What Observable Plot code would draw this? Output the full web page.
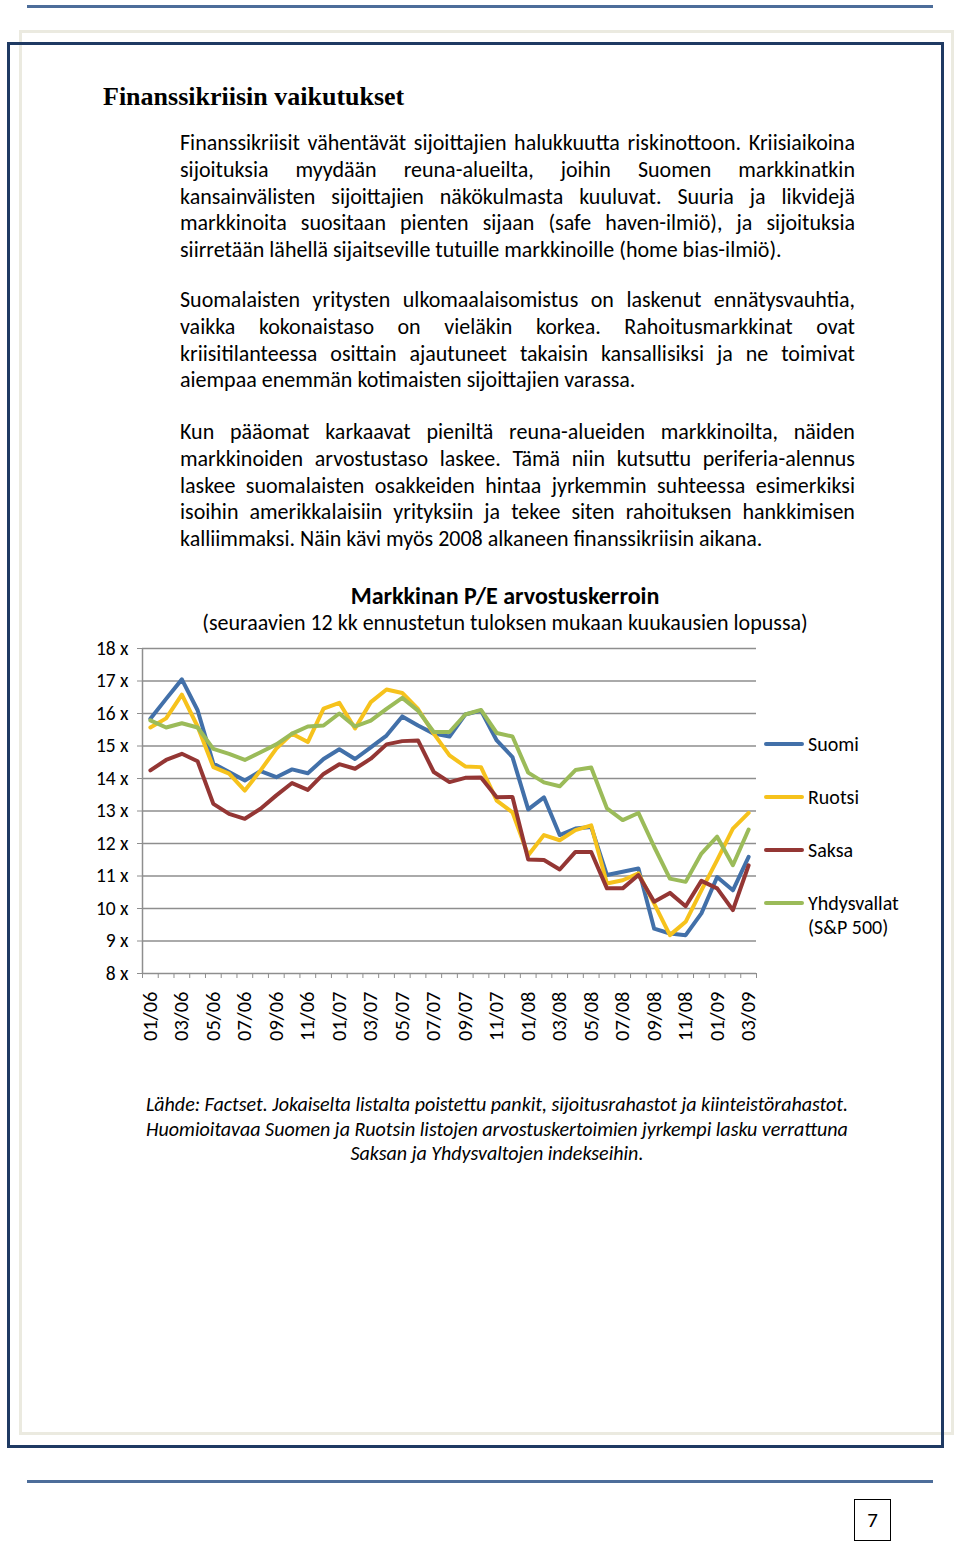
<!DOCTYPE html>
<html>
<head>
<meta charset="utf-8">
<script src="https://cdn.jsdelivr.net/npm/d3@7"></script>
<script src="https://cdn.jsdelivr.net/npm/@observablehq/plot@0.6"></script>
<style>
  html, body { margin: 0; padding: 0; background: #fff; }
  #page { position: relative; width: 960px; height: 1543px; overflow: hidden; background: #fff; font-family: Carlito, Lato, sans-serif; color: #000; }
  .hline { position: absolute; height: 3px; background: #4d6d9a; }
  .frame-light { position: absolute; border: 3px solid #ebeae0; box-sizing: border-box; }
  .frame-dark { position: absolute; border: 3px solid #1f3a63; box-sizing: border-box; }
  .title { position: absolute; left: 103px; top: 81px; font-family: "Liberation Serif", serif; font-weight: bold; font-size: 26px; line-height: 32px; color: #000; white-space: nowrap; }
  .ln { position: absolute; left: 180px; width: 675px; font-size: 22px; line-height: 26px; white-space: nowrap; }
  .j { display: flex; justify-content: space-between; }
  .ctitle { position: absolute; left: 0; width: 1010px; text-align: center; font-weight: bold; font-size: 24px; line-height: 28px; white-space: nowrap; }
  .csub { position: absolute; left: 0; width: 1010px; text-align: center; font-size: 22px; line-height: 26px; white-space: nowrap; }
  .cap { position: absolute; left: 0; width: 994px; text-align: center; font-style: italic; font-size: 20px; line-height: 24px; white-space: nowrap; }
  .leg { position: absolute; left: 764px; font-size: 20px; line-height: 24px; }
  .leg .sw { position: absolute; left: 0; width: 40px; height: 4px; border-radius: 2px; }
  .leg .tx { position: absolute; left: 44px; white-space: nowrap; }
  #chart { position: absolute; left: 0; top: 630px; }
  .pnum { position: absolute; left: 854px; top: 1499px; width: 37px; height: 42px; border: 1.5px solid #000; box-sizing: border-box; text-align: center; font-size: 21px; line-height: 40px; }
</style>
</head>
<body>
<div id="page">
  <div class="hline" style="left:27px; top:5px; width:906px;"></div>
  <div class="frame-light" style="left:19px; top:30px; width:935px; height:1405px;"></div>
  <div class="frame-dark" style="left:7px; top:42px; width:937px; height:1406px;"></div>
  <div class="hline" style="left:27px; top:1480px; width:906px;"></div>
  <div class="pnum">7</div>

  <div class="title">Finanssikriisin vaikutukset</div>
  <div id="text"></div>

  <div class="ctitle" style="top:582px;">Markkinan P/E arvostuskerroin</div>
  <div class="csub" style="top:610px;">(seuraavien 12 kk ennustetun tuloksen mukaan kuukausien lopussa)</div>

  <div id="chart"></div>
  <div id="legend"></div>

  <div id="caption"></div>
</div>
<script>
// ---- Data ----
const months = ["01/06","02/06","03/06","04/06","05/06","06/06","07/06","08/06","09/06","10/06","11/06","12/06",
  "01/07","02/07","03/07","04/07","05/07","06/07","07/07","08/07","09/07","10/07","11/07","12/07",
  "01/08","02/08","03/08","04/08","05/08","06/08","07/08","08/08","09/08","10/08","11/08","12/08",
  "01/09","02/09","03/09"];

const suomi = [15.84,16.45,17.05,16.1,14.46,14.2,13.94,14.23,14.04,14.28,14.16,14.6,
  14.9,14.6,14.96,15.32,15.91,15.63,15.38,15.29,15.97,16.09,15.17,14.66,
  13.05,13.42,12.26,12.46,12.51,11.03,11.13,11.23,9.38,9.23,9.18,9.85,
  10.97,10.56,11.59];

const ruotsi = [15.57,15.85,16.58,15.6,14.35,14.15,13.63,14.25,14.92,15.38,15.12,16.15,
  16.33,15.54,16.35,16.74,16.63,16.14,15.38,14.71,14.37,14.35,13.32,12.96,
  11.64,12.26,12.1,12.41,12.56,10.77,10.87,11.08,10.15,9.18,9.59,10.56,
  11.49,12.46,12.94];

const saksa = [14.25,14.57,14.76,14.53,13.22,12.91,12.76,13.07,13.48,13.86,13.65,14.14,
  14.44,14.3,14.61,15.05,15.15,15.17,14.2,13.89,14.02,14.03,13.42,13.43,
  11.51,11.49,11.2,11.74,11.74,10.62,10.62,11.03,10.21,10.48,10.07,10.85,
  10.62,9.95,11.33];

const yhdysvallat = [15.79,15.57,15.7,15.57,14.91,14.76,14.57,14.81,15.05,15.38,15.6,15.63,
  16.0,15.6,15.78,16.14,16.48,16.09,15.43,15.43,15.97,16.11,15.4,15.29,
  14.18,13.88,13.76,14.26,14.34,13.08,12.72,12.94,11.9,10.92,10.82,11.69,
  12.21,11.33,12.43];

const seriesNames = ["Suomi", "Ruotsi", "Saksa", "Yhdysvallat (S&P 500)"];
const seriesLegend = [["Suomi"], ["Ruotsi"], ["Saksa"], ["Yhdysvallat", "(S&P 500)"]];
const seriesColors = ["#4270a9", "#f6c21c", "#943634", "#9bbb59"];
const yTicks = [8, 9, 10, 11, 12, 13, 14, 15, 16, 17, 18];

const paragraphs = [
  [
    ["Finanssikriisit vähentävät sijoittajien halukkuutta riskinottoon. Kriisiaikoina", "j"],
    ["sijoituksia myydään reuna-alueilta, joihin Suomen markkinatkin", "j"],
    ["kansainvälisten sijoittajien näkökulmasta kuuluvat. Suuria ja likvidejä", "j"],
    ["markkinoita suositaan pienten sijaan (safe haven-ilmiö), ja sijoituksia", "j"],
    ["siirretään lähellä sijaitseville tutuille markkinoille (home bias-ilmiö).", "l"]
  ],
  [
    ["Suomalaisten yritysten ulkomaalaisomistus on laskenut ennätysvauhtia,", "j"],
    ["vaikka kokonaistaso on vieläkin korkea. Rahoitusmarkkinat ovat", "j"],
    ["kriisitilanteessa osittain ajautuneet takaisin kansallisiksi ja ne toimivat", "j"],
    ["aiempaa enemmän kotimaisten sijoittajien varassa.", "l"]
  ],
  [
    ["Kun pääomat karkaavat pieniltä reuna-alueiden markkinoilta, näiden", "j"],
    ["markkinoiden arvostustaso laskee. Tämä niin kutsuttu periferia-alennus", "j"],
    ["laskee suomalaisten osakkeiden hintaa jyrkemmin suhteessa esimerkiksi", "j"],
    ["isoihin amerikkalaisiin yrityksiin ja tekee siten rahoituksen hankkimisen", "j"],
    ["kalliimmaksi. Näin kävi myös 2008 alkaneen finanssikriisin aikana.", "l"]
  ]
];
const paragraphTops = [130, 287, 419];

const captionLines = [
  "Lähde: Factset. Jokaiselta listalta poistettu pankit, sijoitusrahastot ja kiinteistörahastot.",
  "Huomioitavaa Suomen ja Ruotsin listojen arvostuskertoimien jyrkempi lasku verrattuna",
  "Saksan ja Yhdysvaltojen indekseihin."
];

// ---- Text ----
const textDiv = document.getElementById("text");
paragraphs.forEach((p, pi) => {
  p.forEach(([t, cls], li) => {
    const d = document.createElement("div");
    d.className = "ln " + cls;
    d.style.top = (paragraphTops[pi] + li * 26.8) + "px";
    if (cls === "j") {
      t.split(" ").forEach(w => {
        const s = document.createElement("span");
        s.textContent = w;
        d.appendChild(s);
      });
    } else {
      d.textContent = t;
    }
    textDiv.appendChild(d);
  });
});

const capDiv = document.getElementById("caption");
captionLines.forEach((t, i) => {
  const d = document.createElement("div");
  d.className = "cap";
  d.style.top = (1092 + i * 24.5) + "px";
  d.textContent = t;
  capDiv.appendChild(d);
});

// ---- Legend ----
const legDiv = document.getElementById("legend");
const legTops = [732, 785, 838, 891];
seriesLegend.forEach((lines, i) => {
  const g = document.createElement("div");
  g.className = "leg";
  g.style.top = legTops[i] + "px";
  const sw = document.createElement("div");
  sw.className = "sw";
  sw.style.top = "10px";
  sw.style.background = seriesColors[i];
  g.appendChild(sw);
  lines.forEach((t, k) => {
    const tx = document.createElement("div");
    tx.className = "tx";
    tx.style.top = (k * 24) + "px";
    tx.textContent = t;
    g.appendChild(tx);
  });
  legDiv.appendChild(g);
});

// ---- Chart ----
const seriesValues = [suomi, ruotsi, saksa, yhdysvallat];
const data = [];
seriesValues.forEach((vals, s) => {
  vals.forEach((v, i) => data.push({name: seriesNames[s], i, month: months[i], v}));
});

const chart = Plot.plot({
  width: 960,
  height: 418,
  marginLeft: 142,
  marginRight: 204,
  marginTop: 18,
  marginBottom: 75,
  style: {fontFamily: "Carlito, Lato, sans-serif", fontSize: "19.5px", color: "#000", background: "transparent", overflow: "visible"},
  x: {type: "linear", domain: [-0.5, months.length - 0.5]},
  y: {domain: [8, 18]},
  color: {domain: seriesNames, range: seriesColors},
  marks: [
    Plot.gridY(yTicks, {stroke: "#8e8e8e", strokeOpacity: 1, strokeWidth: 1.5}),
    Plot.ruleX([-0.5], {stroke: "#8e8e8e", strokeWidth: 1.5}),
    Plot.axisY(yTicks, {label: null, tickFormat: d => d + " x", tickSize: 5, tickPadding: 9, stroke: "#8e8e8e", fill: "#000"}),
    Plot.axisX(d3.range(months.length + 1).map(k => k - 0.5), {label: null, tickSize: 5, tickFormat: () => "", stroke: "#8e8e8e"}),
    Plot.axisX(d3.range(0, months.length, 2), {label: null, tickSize: 0, tickPadding: 18, tickRotate: -90, fontSize: 20.5, tickFormat: i => months[i], fill: "#000"}),
    Plot.line(data, {x: "i", y: "v", z: "name", stroke: "name", strokeWidth: 4, strokeLinejoin: "round", strokeLinecap: "round"})
  ]
});
document.getElementById("chart").appendChild(chart);
</script>
</body>
</html>
